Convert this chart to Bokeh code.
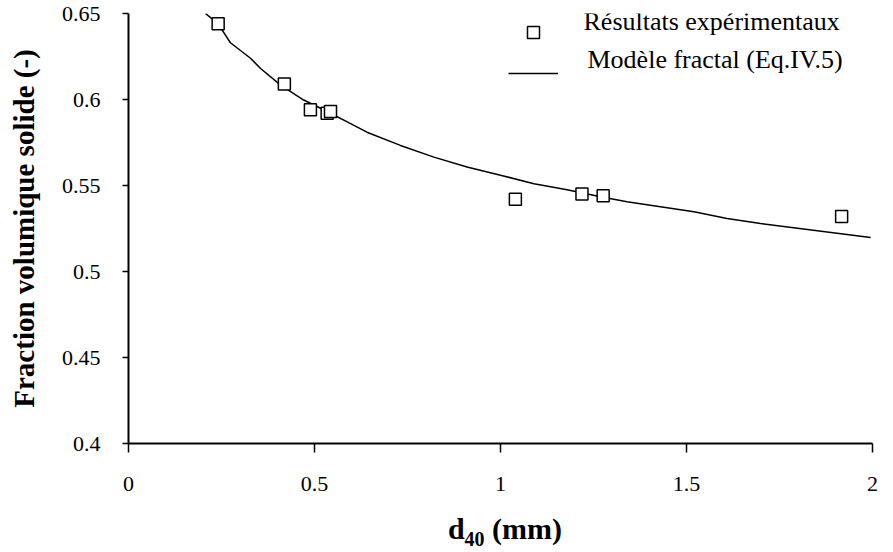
from bokeh.plotting import figure
from bokeh.models import Range1d, FixedTicker, Legend, LegendItem, Div, Label
from bokeh.core.properties import value
from bokeh.layouts import column
from bokeh.embed import file_html
from bokeh.resources import INLINE

# experimental points
x_exp = [0.241, 0.419, 0.489, 0.534, 0.543, 1.040, 1.219, 1.276, 1.917]
y_exp = [0.644, 0.609, 0.594, 0.592, 0.593, 0.542, 0.545, 0.544, 0.532]

# fractal model curve
x_model = [0.207, 0.241, 0.274, 0.328, 0.355, 0.409, 0.471, 0.534, 0.597, 0.641,
           0.731, 0.821, 0.910, 1.000, 1.090, 1.179, 1.269, 1.340, 1.430, 1.520,
           1.609, 1.699, 1.788, 1.878, 1.995]
y_model = [0.650, 0.644, 0.633, 0.624, 0.618, 0.6084, 0.5997, 0.593, 0.586, 0.581,
           0.5733, 0.5665, 0.5608, 0.556, 0.551, 0.5475, 0.5435, 0.5405, 0.5376, 0.5347,
           0.5308, 0.5279, 0.5255, 0.523, 0.5197]

x_ticks = [0, 0.5, 1, 1.5, 2]
x_tick_labels = ["0", "0.5", "1", "1.5", "2"]
y_ticks = [0.4, 0.45, 0.5, 0.55, 0.6, 0.65]
y_tick_labels = ["0.4", "0.45", "0.5", "0.55", "0.6", "0.65"]
series_names = ["Résultats expérimentaux", "Modèle fractal (Eq.IV.5)"]
y_title = "Fraction volumique solide (-)"
x_title_main = "d"
x_title_sub = "40"
x_title_unit = "(mm)"

FONT = "Liberation Serif"

p = figure(width=893, height=505, output_backend="svg", toolbar_location=None,
           x_range=Range1d(0, 2), y_range=Range1d(0.4, 0.65),
           min_border_left=128, min_border_right=21, min_border_top=13,
           min_border_bottom=62)
p.outline_line_color = None
p.xgrid.grid_line_color = None
p.ygrid.grid_line_color = None
p.background_fill_color = "white"
p.border_fill_color = "white"

r_line = p.line(x_model, y_model, line_color="black", line_width=1.5)
r_pts = p.scatter(x_exp, y_exp, marker="square", size=12, fill_color="white",
                  line_color="black", line_width=1.5)

# axes
p.xaxis.ticker = FixedTicker(ticks=x_ticks)
p.xaxis.major_label_overrides = dict(zip(x_ticks, x_tick_labels))
p.yaxis.ticker = FixedTicker(ticks=y_ticks)
p.yaxis.major_label_overrides = dict(zip(y_ticks, y_tick_labels))
for ax in (p.xaxis[0], p.yaxis[0]):
    ax.axis_line_color = "black"
    ax.axis_line_width = 2
    ax.major_tick_line_color = "black"
    ax.major_tick_line_width = 1.5
    ax.major_tick_in = 0
    ax.minor_tick_line_color = None
    ax.major_label_text_font = FONT
    ax.major_label_text_font_size = "22px"
    ax.major_label_text_color = "black"
p.xaxis.major_tick_out = 9
p.xaxis.major_label_standoff = 24
p.yaxis.major_tick_out = 6
p.yaxis.major_label_standoff = 22

p.yaxis.axis_label = y_title
p.yaxis.axis_label_text_font = FONT
p.yaxis.axis_label_text_font_style = "bold"
p.yaxis.axis_label_text_font_size = "29px"
p.yaxis.axis_label_text_color = "black"
p.yaxis.axis_label_standoff = 19

# legend: symbols drawn by a Legend, texts placed slightly above the symbols
legend = Legend(items=[LegendItem(label=value(""), renderers=[r_pts]),
                       LegendItem(label=value(""), renderers=[r_line])],
                location=(380, 350), padding=0, margin=0, spacing=0,
                glyph_width=50, glyph_height=30, label_height=41,
                label_standoff=0, border_line_color=None,
                background_fill_alpha=0, label_text_font_size="1px")
p.add_layout(legend)

label_common = dict(x_units="screen", y_units="screen", text_font=FONT,
                    text_font_size="26px", text_color="black",
                    text_baseline="alphabetic", text_align="left")
p.add_layout(Label(x=455, y=422, text=series_names[0], **label_common))
p.add_layout(Label(x=459, y=384, text=series_names[1], **label_common))

x_title_html = (
    '<div style="width:744px; margin-left:128px; margin-top:5px; text-align:center; '
    "font-family:'Liberation Serif'; font-weight:bold; font-size:30px; line-height:28px; "
    'color:black; white-space:nowrap;">'
    f'{x_title_main}<span style="font-size:20px; position:relative; top:7px;">{x_title_sub}</span>'
    f' {x_title_unit}</div>'
)
x_title = Div(text=x_title_html, width=893, height=47)

layout = column(p, x_title, spacing=0)

open("out.html", "w").write(file_html(layout, INLINE))
